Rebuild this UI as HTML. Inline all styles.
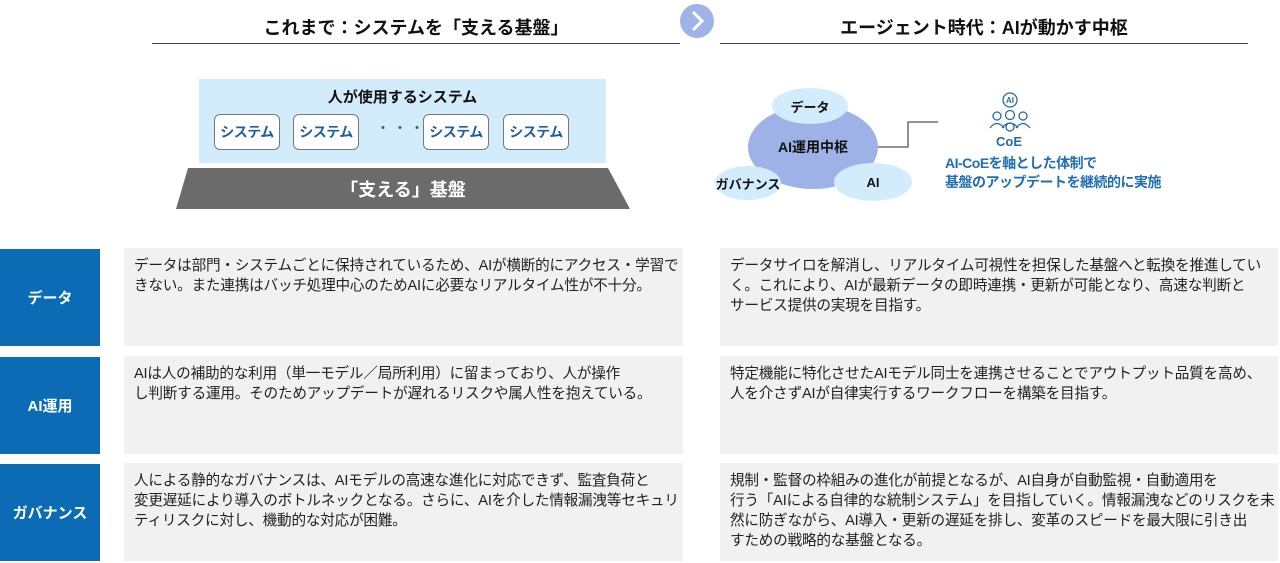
<!DOCTYPE html>
<html><head><meta charset="utf-8"><style>
body{margin:0;width:1280px;height:563px;background:#fff;position:relative;overflow:hidden;font-family:"Liberation Sans","Noto Sans CJK JP",sans-serif;}
.a{position:absolute;}
.h{font-weight:bold;font-size:18px;color:#111;white-space:nowrap;text-align:center;}
.sys{position:absolute;top:114px;width:64px;height:34px;border:1px solid #777;border-radius:6px;background:#fff;color:#1f5f9e;font-weight:bold;font-size:14px;text-align:center;line-height:34px;letter-spacing:-0.5px;}
.lab{position:absolute;left:0;width:100px;background:#0b6bb5;color:#fff;font-weight:bold;font-size:15px;display:flex;align-items:center;justify-content:center;}
.tx{position:absolute;background:#f1f1f1;font-size:14.6px;line-height:20px;color:#222;padding:8px 10px;box-sizing:border-box;white-space:nowrap;letter-spacing:-0.2px;}
.el{position:absolute;border-radius:50%;display:flex;align-items:center;justify-content:center;font-weight:bold;font-size:13px;color:#111;}
</style></head><body>
<div class="a h" style="left:152px;top:14px;width:528px;">これまで：システムを「支える基盤」</div>
<div class="a" style="left:152px;top:43px;width:528px;height:1px;background:#444"></div>
<div class="a h" style="left:720px;top:14px;width:528px;">エージェント時代：AIが動かす中枢</div>
<div class="a" style="left:720px;top:43px;width:528px;height:1px;background:#444"></div>
<svg class="a" style="left:679px;top:3px" width="36" height="36"><circle cx="18" cy="18" r="17" fill="#9fb3e8"/><path d="M14 9 L23 18 L14 27" stroke="#fff" stroke-width="3" fill="none"/></svg>

<div class="a" style="left:199px;top:79px;width:407px;height:84px;background:#d3ecfb"></div>
<div class="a" style="left:199px;top:86px;width:407px;text-align:center;font-weight:bold;font-size:15px;color:#111">人が使用するシステム</div>
<div class="sys" style="left:214px">システム</div>
<div class="sys" style="left:293px">システム</div>
<div class="a" style="left:376px;top:118px;font-size:14px;color:#1f5f9e;letter-spacing:3px">・・・</div>
<div class="sys" style="left:423px">システム</div>
<div class="sys" style="left:503px">システム</div>
<svg class="a" style="left:0;top:0" width="700" height="230"><polygon points="188,168 608,168 630,209 176,209" fill="#6b6b6b"/></svg>
<div class="a" style="left:176px;top:176px;width:454px;text-align:center;color:#fff;font-weight:bold;font-size:18px">「支える」基盤</div>

<div class="el" style="left:748px;top:105px;width:130px;height:84px;background:#9eb2e8;font-size:14px">AI運用中枢</div>
<div class="el" style="left:772px;top:88px;width:76px;height:36px;background:#d3ecfb">データ</div>
<div class="el" style="left:715px;top:166px;width:66px;height:34px;background:#d3ecfb">ガバナンス</div>
<div class="el" style="left:834px;top:163px;width:78px;height:38px;background:#d3ecfb">AI</div>
<svg class="a" style="left:870px;top:90px" width="170" height="60">
<polyline points="8,57 38,57 38,32 68,32" fill="none" stroke="#555" stroke-width="1.3"/>
<g fill="none" stroke="#2a6aa8" stroke-width="1.3">
<circle cx="140" cy="10" r="7"/>
<circle cx="127" cy="26" r="4"/><path d="M120 38 q7 -9 14 0"/>
<circle cx="140" cy="25" r="4.5"/><path d="M132 38 q8 -10 16 0"/>
<circle cx="153" cy="26" r="4"/><path d="M146 38 q7 -9 14 0"/>
<circle cx="140" cy="37" r="4"/>
</g>
<text x="140" y="13" font-size="8" font-weight="bold" fill="#2a6aa8" text-anchor="middle" font-family="Liberation Sans">AI</text>
</svg>
<div class="a" style="left:996px;top:134px;font-size:13px;font-weight:bold;color:#2a6aa8">CoE</div>
<div class="a" style="left:945px;top:154px;font-size:14px;font-weight:bold;color:#1f6fb5;line-height:19px;letter-spacing:-0.5px;white-space:nowrap">AI-CoEを軸とした体制で<br>基盤のアップデートを継続的に実施</div>

<div class="lab" style="top:249px;height:97px">データ</div>
<div class="lab" style="top:357px;height:97px">AI運用</div>
<div class="lab" style="top:464px;height:97px">ガバナンス</div>

<div class="tx" style="left:124px;top:248px;width:559px;height:98px">データは部門・システムごとに保持されているため、AIが横断的にアクセス・学習で<br>きない。また連携はバッチ処理中心のためAIに必要なリアルタイム性が不十分。</div>
<div class="tx" style="left:124px;top:356px;width:559px;height:98px">AIは人の補助的な利用（単一モデル／局所利用）に留まっており、人が操作<br>し判断する運用。そのためアップデートが遅れるリスクや属人性を抱えている。</div>
<div class="tx" style="left:124px;top:463px;width:559px;height:98px">人による静的なガバナンスは、AIモデルの高速な進化に対応できず、監査負荷と<br>変更遅延により導入のボトルネックとなる。さらに、AIを介した情報漏洩等セキュリ<br>ティリスクに対し、機動的な対応が困難。</div>

<div class="tx" style="left:720px;top:248px;width:558px;height:98px">データサイロを解消し、リアルタイム可視性を担保した基盤へと転換を推進してい<br>く。これにより、AIが最新データの即時連携・更新が可能となり、高速な判断と<br>サービス提供の実現を目指す。</div>
<div class="tx" style="left:720px;top:356px;width:558px;height:98px">特定機能に特化させたAIモデル同士を連携させることでアウトプット品質を高め、<br>人を介さずAIが自律実行するワークフローを構築を目指す。</div>
<div class="tx" style="left:720px;top:463px;width:558px;height:98px">規制・監督の枠組みの進化が前提となるが、AI自身が自動監視・自動適用を<br>行う「AIによる自律的な統制システム」を目指していく。情報漏洩などのリスクを未<br>然に防ぎながら、AI導入・更新の遅延を排し、変革のスピードを最大限に引き出<br>すための戦略的な基盤となる。</div>
</body></html>
